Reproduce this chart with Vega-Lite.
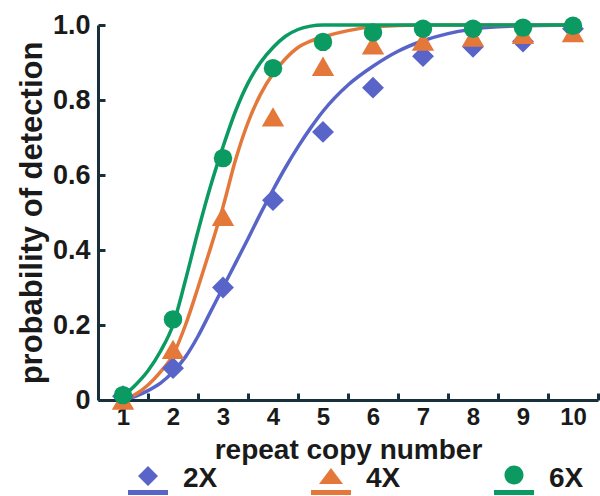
{
  "$schema": "https://vega.github.io/schema/vega-lite/v6.json",
  "width": 500,
  "height": 375,
  "autosize": "none",
  "padding": {"left": 98, "top": 25, "right": 2, "bottom": 96},
  "background": "white",
  "config": {
    "view": {"stroke": null},
    "font": "Liberation Sans",
    "axis": {"labelFont": "Liberation Sans", "titleFont": "Liberation Sans", "labelFontWeight": "bold", "titleFontWeight": "bold", "labelColor": "#1a1a1a", "titleColor": "#1a1a1a", "domainColor": "#17303c", "domainWidth": 3, "tickColor": "#17303c", "tickWidth": 3, "grid": false}
  },
  "datasets": {
    "pts": [
      {"x": 1, "p": 0.01, "series": "2X"}, {"x": 2, "p": 0.085, "series": "2X"}, {"x": 3, "p": 0.3, "series": "2X"}, {"x": 4, "p": 0.533, "series": "2X"}, {"x": 5, "p": 0.715, "series": "2X"}, {"x": 6, "p": 0.833, "series": "2X"}, {"x": 7, "p": 0.917, "series": "2X"}, {"x": 8, "p": 0.942, "series": "2X"}, {"x": 9, "p": 0.956, "series": "2X"}, {"x": 10, "p": 0.99, "series": "2X"},
      {"x": 1, "p": 0.0, "series": "4X"}, {"x": 2, "p": 0.135, "series": "4X"}, {"x": 3, "p": 0.49, "series": "4X"}, {"x": 4, "p": 0.755, "series": "4X"}, {"x": 5, "p": 0.89, "series": "4X"}, {"x": 6, "p": 0.947, "series": "4X"}, {"x": 7, "p": 0.957, "series": "4X"}, {"x": 8, "p": 0.968, "series": "4X"}, {"x": 9, "p": 0.975, "series": "4X"}, {"x": 10, "p": 0.98, "series": "4X"},
      {"x": 1, "p": 0.013, "series": "6X"}, {"x": 2, "p": 0.215, "series": "6X"}, {"x": 3, "p": 0.645, "series": "6X"}, {"x": 4, "p": 0.885, "series": "6X"}, {"x": 5, "p": 0.955, "series": "6X"}, {"x": 6, "p": 0.98, "series": "6X"}, {"x": 7, "p": 0.99, "series": "6X"}, {"x": 8, "p": 0.99, "series": "6X"}, {"x": 9, "p": 0.993, "series": "6X"}, {"x": 10, "p": 0.998, "series": "6X"}
    ],
    "fit": [
      {"x": 1, "p": 0.0, "series": "2X"}, {"x": 1.25, "p": 0.01, "series": "2X"}, {"x": 1.5, "p": 0.025, "series": "2X"}, {"x": 1.75, "p": 0.045, "series": "2X"}, {"x": 2, "p": 0.075, "series": "2X"}, {"x": 2.25, "p": 0.115, "series": "2X"}, {"x": 2.5, "p": 0.17, "series": "2X"}, {"x": 2.75, "p": 0.235, "series": "2X"}, {"x": 3, "p": 0.3, "series": "2X"}, {"x": 3.25, "p": 0.365, "series": "2X"}, {"x": 3.5, "p": 0.43, "series": "2X"}, {"x": 3.75, "p": 0.497, "series": "2X"}, {"x": 4, "p": 0.56, "series": "2X"}, {"x": 4.25, "p": 0.62, "series": "2X"}, {"x": 4.5, "p": 0.675, "series": "2X"}, {"x": 4.75, "p": 0.725, "series": "2X"}, {"x": 5, "p": 0.77, "series": "2X"}, {"x": 5.5, "p": 0.84, "series": "2X"}, {"x": 6, "p": 0.89, "series": "2X"}, {"x": 6.5, "p": 0.93, "series": "2X"}, {"x": 7, "p": 0.958, "series": "2X"}, {"x": 7.5, "p": 0.977, "series": "2X"}, {"x": 8, "p": 0.989, "series": "2X"}, {"x": 8.5, "p": 0.995, "series": "2X"}, {"x": 9, "p": 0.998, "series": "2X"}, {"x": 10, "p": 1.0, "series": "2X"},
      {"x": 1, "p": 0.0, "series": "4X"}, {"x": 1.25, "p": 0.015, "series": "4X"}, {"x": 1.5, "p": 0.04, "series": "4X"}, {"x": 1.75, "p": 0.075, "series": "4X"}, {"x": 2, "p": 0.12, "series": "4X"}, {"x": 2.25, "p": 0.2, "series": "4X"}, {"x": 2.5, "p": 0.3, "series": "4X"}, {"x": 2.75, "p": 0.405, "series": "4X"}, {"x": 3, "p": 0.515, "series": "4X"}, {"x": 3.25, "p": 0.64, "series": "4X"}, {"x": 3.5, "p": 0.74, "series": "4X"}, {"x": 3.75, "p": 0.815, "series": "4X"}, {"x": 4, "p": 0.87, "series": "4X"}, {"x": 4.25, "p": 0.91, "series": "4X"}, {"x": 4.5, "p": 0.94, "series": "4X"}, {"x": 4.75, "p": 0.957, "series": "4X"}, {"x": 5, "p": 0.968, "series": "4X"}, {"x": 5.5, "p": 0.985, "series": "4X"}, {"x": 6, "p": 0.995, "series": "4X"}, {"x": 7, "p": 1.0, "series": "4X"}, {"x": 10, "p": 1.0, "series": "4X"},
      {"x": 1, "p": 0.01, "series": "6X"}, {"x": 1.25, "p": 0.04, "series": "6X"}, {"x": 1.5, "p": 0.078, "series": "6X"}, {"x": 1.75, "p": 0.13, "series": "6X"}, {"x": 2, "p": 0.2, "series": "6X"}, {"x": 2.25, "p": 0.32, "series": "6X"}, {"x": 2.5, "p": 0.45, "series": "6X"}, {"x": 2.75, "p": 0.57, "series": "6X"}, {"x": 3, "p": 0.675, "series": "6X"}, {"x": 3.25, "p": 0.77, "series": "6X"}, {"x": 3.5, "p": 0.845, "series": "6X"}, {"x": 3.75, "p": 0.9, "series": "6X"}, {"x": 4, "p": 0.94, "series": "6X"}, {"x": 4.25, "p": 0.97, "series": "6X"}, {"x": 4.5, "p": 0.988, "series": "6X"}, {"x": 4.75, "p": 0.997, "series": "6X"}, {"x": 5, "p": 1.0, "series": "6X"}, {"x": 10, "p": 1.0, "series": "6X"}
    ]
  },
  "layer": [
    {
      "mark": {"type": "rule", "color": "#17303c", "strokeWidth": 3},
      "encoding": {"y": {"datum": 1, "type": "quantitative"}}
    },
    {
      "data": {"name": "fit"},
      "mark": {"type": "line", "interpolate": "monotone", "strokeWidth": 3.5},
      "encoding": {
        "x": {"field": "x", "type": "quantitative", "scale": {"domain": [0.5, 10.5], "nice": false, "zero": false},
          "axis": {"values": [1,2,3,4,5,6,7,8,9,10], "title": "repeat copy number", "labelFontSize": 24, "titleFontSize": 28, "tickSize": -7, "tickOffset": 25, "labelOffset": -25, "labelPadding": 12, "titlePadding": 7, "labelFlush": false}},
        "y": {"field": "p", "type": "quantitative", "scale": {"domain": [0, 1], "nice": false},
          "axis": {"values": [0, 0.2, 0.4, 0.6, 0.8, 1.0], "labelExpr": "datum.value == 0 ? '0' : format(datum.value, '.1f')", "title": "probability of detection", "labelFontSize": 27, "titleFontSize": 31, "tickSize": -7, "labelPadding": 15, "titlePadding": 4, "labelFlush": false}},
        "color": {"field": "series", "type": "nominal",
          "scale": {"domain": ["2X", "4X", "6X"], "range": ["#5864c8", "#e4773a", "#0b9a62"]},
          "legend": {
            "orient": "none", "legendX": 30, "legendY": 434, "direction": "horizontal", "columns": 3, "title": null, "padding": 0,
            "columnPadding": 93, "symbolSize": 1600, "labelOffset": 15, "labelFontSize": 28, "labelFontWeight": "bold", "labelFont": "Liberation Sans", "labelColor": "#1a1a1a",
            "symbolStrokeWidth": 0,
            "encode": {"symbols": {"update": {
              "shape": {"signal": "datum.value === '2X' ? 'M0,-0.65L0.5,-0.15L0,0.35L-0.5,-0.15Z M-1,0.55L1,0.55L1,0.8L-1,0.8Z' : datum.value === '4X' ? 'M0,-0.55L0.6,0.25L-0.6,0.25Z M-1,0.55L1,0.55L1,0.8L-1,0.8Z' : 'M-0.475,-0.2A0.475,0.475 0 1,1 0.475,-0.2A0.475,0.475 0 1,1 -0.475,-0.2Z M-1,0.55L1,0.55L1,0.8L-1,0.8Z'"},
              "size": {"value": 1600},
              "fill": {"scale": "color", "field": "value"},
              "fillOpacity": {"value": 1},
              "opacity": {"value": 1},
              "strokeWidth": {"value": 0}
            }}}
          }}
      }
    },
    {
      "data": {"name": "pts"},
      "transform": [{"filter": "datum.series === '2X'"}],
      "mark": {"type": "point", "filled": true, "opacity": 1, "shape": "diamond", "size": 480},
      "encoding": {
        "x": {"field": "x", "type": "quantitative"},
        "y": {"field": "p", "type": "quantitative"},
        "color": {"field": "series", "type": "nominal"}
      }
    },
    {
      "data": {"name": "pts"},
      "transform": [{"filter": "datum.series === '4X'"}],
      "mark": {"type": "point", "filled": true, "opacity": 1, "shape": "triangle-up", "size": 500},
      "encoding": {
        "x": {"field": "x", "type": "quantitative"},
        "y": {"field": "p", "type": "quantitative"},
        "color": {"field": "series", "type": "nominal"}
      }
    },
    {
      "data": {"name": "pts"},
      "transform": [{"filter": "datum.series === '6X'"}],
      "mark": {"type": "point", "filled": true, "opacity": 1, "shape": "circle", "size": 340},
      "encoding": {
        "x": {"field": "x", "type": "quantitative"},
        "y": {"field": "p", "type": "quantitative"},
        "color": {"field": "series", "type": "nominal"}
      }
    }
  ]
}
